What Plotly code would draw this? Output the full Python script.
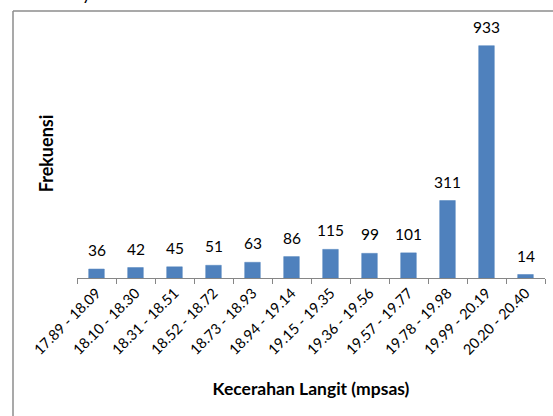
import plotly.graph_objects as go

# Frequency of sky brightness readings per class interval
kelas = ["17.89 - 18.09", "18.10 - 18.30", "18.31 - 18.51", "18.52 - 18.72",
         "18.73 - 18.93", "18.94 - 19.14", "19.15 - 19.35", "19.36 - 19.56",
         "19.57 - 19.77", "19.78 - 19.98", "19.99 - 20.19", "20.20 - 20.40"]
frekuensi = [36, 42, 45, 51, 63, 86, 115, 99, 101, 311, 933, 14]

W, H = 553, 416
L, R, T, B = 77, 8, 29, 138
FONT = "Lato, 'Open Sans', sans-serif"

fig = go.Figure()
fig.add_trace(go.Bar(
    x=kelas, y=frekuensi,
    marker=dict(color="#4F81BD", line=dict(color="#4A7EBB", width=0.5)),
    width=0.4,
    hoverinfo="x+y",
))

# value labels above each bar
for k, v in zip(kelas, frekuensi):
    fig.add_annotation(x=k, y=v, text=str(v), showarrow=False,
                       yanchor="bottom", yshift=8,
                       font=dict(family=FONT, size=15.5, color="#000000"))

pw = W - L - R
ph = H - T - B
# outer frame (left and top edges)
fx = (13 - L) / pw
fy = (H - B - 11) / ph
fig.add_shape(type="line", xref="paper", yref="paper",
              x0=fx, x1=fx, y0=fy, y1=-1.0,
              line=dict(color="#8C8C8C", width=1.5))
fig.add_shape(type="line", xref="paper", yref="paper",
              x0=fx, x1=1.2, y0=fy, y1=fy,
              line=dict(color="#8C8C8C", width=1.5))

# descender of the caption line above the frame
fig.add_annotation(xref="paper", yref="paper", x=(87 - L) / pw,
                   y=(H - B - 6) / ph, text="y", showarrow=False,
                   yanchor="bottom", xanchor="center",
                   font=dict(family=FONT, size=18, color="#000000"))

fig.update_layout(
    width=W, height=H,
    margin=dict(l=L, r=R, t=T, b=B, pad=0),
    paper_bgcolor="white", plot_bgcolor="white",
    showlegend=False,
    font=dict(family=FONT, size=14, color="#000000"),
    xaxis=dict(
        type="category", tickangle=-45, tickson="boundaries",
        ticks="outside", ticklen=5, tickcolor="#868686", tickwidth=1,
        showline=True, linecolor="#868686", linewidth=1,
        showgrid=False, tickfont=dict(family=FONT, size=14.5, color="#000000"),
        title=dict(text="<b>Kecerahan Langit (mpsas)</b>", standoff=25,
                   font=dict(family=FONT, size=17.5, color="#000000")),
    ),
    yaxis=dict(
        range=[0, 1000], showticklabels=False, showgrid=False,
        zeroline=False, showline=False, ticks="",
        title=dict(text="<b>Frekuensi</b>", standoff=17,
                   font=dict(family=FONT, size=18, color="#000000")),
    ),
)

fig.write_html("out.html")
